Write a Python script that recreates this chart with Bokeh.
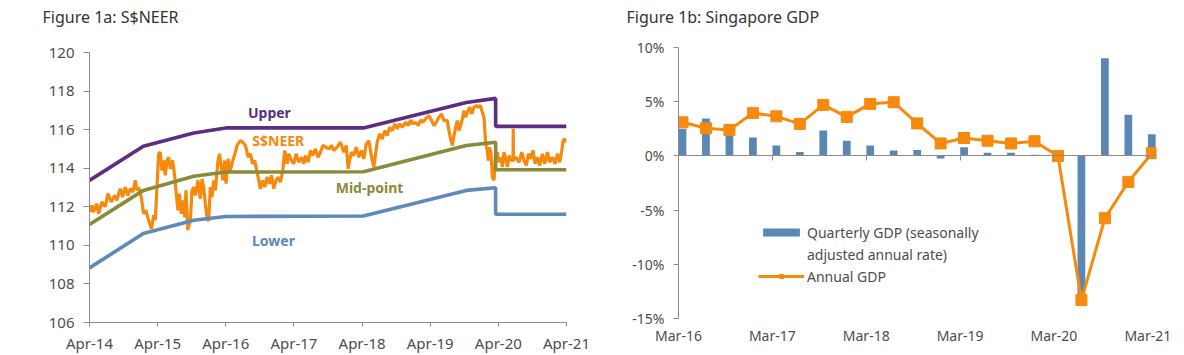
from bokeh.plotting import figure
from bokeh.layouts import row, column
from bokeh.models import (ColumnDataSource, LinearAxis, FixedTicker, Legend, LegendItem,
                          CustomJSTickFormatter, Title)
from bokeh.embed import file_html
from bokeh.resources import INLINE
from bokeh.core.properties import value

FONT = "Noto Sans"
TXT = "#4d4d4d"
AX = "#8c8c8c"
C_UP = "#5c2d83"
C_MID = "#8a8a3b"
C_LOW = "#5d8ab8"
C_OR = "#f7890c"
C_BAR = "#5b87b4"

# ---------------- Figure 1a data ----------------
title1 = "Figure 1a: S$NEER"
year_ticks = [2014.25, 2015.25, 2016.25, 2017.25, 2018.25, 2019.25, 2020.25, 2021.25]
year_labels = ["Apr-14", "Apr-15", "Apr-16", "Apr-17", "Apr-18", "Apr-19", "Apr-20", "Apr-21"]
y1_ticks = [106, 108, 110, 112, 114, 116, 118, 120]

band_t = [2014.25, 2015.04, 2015.78, 2016.25, 2018.27, 2019.78, 2020.21, 2020.21, 2021.25]
upper = [113.37, 115.14, 115.83, 116.09, 116.09, 117.41, 117.62, 116.17, 116.17]
mid = [111.08, 112.85, 113.58, 113.80, 113.82, 115.18, 115.35, 113.92, 113.92]
lower = [108.83, 110.61, 111.30, 111.50, 111.52, 112.85, 112.99, 111.61, 111.61]

neer_t = [2014.260, 2014.285, 2014.309, 2014.358, 2014.383, 2014.432, 2014.481, 2014.520, 2014.569,
          2014.618, 2014.652, 2014.701, 2014.735, 2014.775, 2014.814, 2014.848, 2014.887, 2014.921,
          2014.946, 2014.970, 2015.010, 2015.044, 2015.078, 2015.117, 2015.160, 2015.191, 2015.215,
          2015.240, 2015.264, 2015.289, 2015.313, 2015.338, 2015.362, 2015.387, 2015.411, 2015.436,
          2015.470, 2015.499, 2015.519, 2015.548, 2015.568, 2015.597, 2015.617, 2015.646, 2015.666,
          2015.692, 2015.730, 2015.754, 2015.779, 2015.803, 2015.842, 2015.877, 2015.901, 2015.925,
          2015.950, 2015.974, 2015.999,
          2016.023, 2016.048, 2016.072, 2016.097, 2016.136, 2016.156, 2016.185, 2016.205, 2016.234,
          2016.254, 2016.283, 2016.317, 2016.352, 2016.391, 2016.415, 2016.464, 2016.499, 2016.538,
          2016.577, 2016.611, 2016.645, 2016.675, 2016.709, 2016.734, 2016.758, 2016.792, 2016.822,
          2016.856, 2016.890, 2016.920, 2016.954, 2016.988, 2017.018, 2017.052, 2017.086, 2017.116,
          2017.150, 2017.174, 2017.214, 2017.248, 2017.282, 2017.321, 2017.361, 2017.395, 2017.419,
          2017.458, 2017.493, 2017.527, 2017.566, 2017.605, 2017.640, 2017.674,
          2017.762, 2017.801, 2017.835, 2017.884, 2017.933, 2017.958, 2017.982, 2018.017, 2018.046,
          2018.066, 2018.095, 2018.129, 2018.164, 2018.203, 2018.242, 2018.276, 2018.311, 2018.350,
          2018.389, 2018.423, 2018.448, 2018.472, 2018.506, 2018.546, 2018.585, 2018.619, 2018.653,
          2018.693, 2018.732, 2018.766, 2018.800, 2018.839, 2018.888, 2018.928, 2018.962, 2018.996,
          2019.035, 2019.075, 2019.109, 2019.143, 2019.182, 2019.231, 2019.270, 2019.305, 2019.339,
          2019.378, 2019.417, 2019.452,
          2019.500, 2019.525, 2019.549, 2019.574, 2019.598, 2019.623, 2019.647, 2019.672, 2019.696,
          2019.721, 2019.745, 2019.770, 2019.794, 2019.829, 2019.858, 2019.892, 2019.927, 2019.956,
          2019.985, 2020.015, 2020.039, 2020.064, 2020.088, 2020.103, 2020.123, 2020.142, 2020.162,
          2020.186, 2020.211, 2020.235, 2020.260, 2020.284, 2020.309, 2020.333, 2020.358, 2020.382,
          2020.407, 2020.441, 2020.466, 2020.468, 2020.471, 2020.514, 2020.553, 2020.593, 2020.627,
          2020.661, 2020.691, 2020.725, 2020.759, 2020.789, 2020.823, 2020.857, 2020.896, 2020.931,
          2020.970, 2021.004, 2021.043, 2021.083, 2021.117, 2021.151, 2021.181, 2021.200, 2021.225,
          2021.245]
neer_v = [111.73, 112.07, 111.73, 112.16, 111.64, 112.25, 111.99, 112.68, 112.25,
          112.59, 112.33, 112.94, 112.50, 113.02, 112.59, 112.94, 112.76, 113.37,
          112.85, 113.02, 112.50, 111.64, 111.81, 111.30, 110.85, 111.56, 111.30,
          113.02, 114.75, 114.83, 113.88, 114.40, 113.63, 114.40, 114.57, 113.97,
          114.40, 113.63, 112.85, 111.81, 112.68, 111.64, 112.33, 111.47, 112.85,
          110.80, 111.30, 112.85, 113.02, 112.59, 113.37, 112.42, 113.45, 113.02,
          112.16, 111.47, 111.25,
          113.02, 112.50, 113.37, 112.85, 114.40, 114.75, 114.06, 113.37, 114.40,
          113.20, 114.49, 113.88, 114.40, 114.83, 115.18, 115.43, 115.35, 115.18,
          114.57, 114.75, 114.23, 114.40, 113.80, 113.37, 112.94, 113.37, 113.02,
          113.54, 113.20, 113.63, 112.94, 113.37, 113.54, 113.28, 113.88, 114.92,
          114.23, 114.75, 114.40, 114.23, 114.75, 114.31, 114.57, 114.23, 114.66,
          114.31, 114.92, 114.66, 115.00, 114.57, 114.83, 115.18,
          115.00, 115.18, 114.92, 115.09, 115.35, 115.09, 114.83, 115.18, 113.97,
          114.40, 114.83, 114.66, 115.09, 114.57, 114.92, 114.49, 115.26, 115.43,
          114.57, 114.06, 114.75, 115.35, 115.78, 115.52, 115.95, 115.69, 116.12,
          115.95, 116.30, 116.04, 116.30, 116.12, 116.38, 116.21, 116.50, 116.30,
          116.38, 116.21, 116.50, 116.38, 116.56, 116.73, 116.47, 116.21, 116.38,
          116.64, 116.81, 116.47,
          116.47, 115.95, 115.52, 115.18, 115.69, 116.12, 116.47, 115.95, 116.21,
          116.56, 116.99, 116.64, 116.90, 117.16, 116.81, 117.16, 117.25, 117.16,
          117.25, 116.90, 116.64, 115.26, 114.92, 114.40, 115.09, 114.75, 113.54,
          113.37, 114.75, 114.83, 114.31, 114.57, 114.06, 114.83, 114.49, 114.06,
          114.66, 114.40, 114.40, 116.05, 114.40, 114.57, 114.31, 114.83, 114.40,
          114.14, 114.75, 114.49, 114.92, 114.23, 114.57, 114.14, 114.75, 114.23,
          114.83, 114.31, 114.57, 114.23, 114.75, 114.31, 114.92, 115.43, 115.52,
          115.35]

lab_text = ["Upper", "S$NEER", "Mid-point", "Lower"]
lab_t = [2016.89, 2017.02, 2018.36, 2016.95]
lab_v = [116.91, 115.43, 112.99, 110.23]
lab_col = [C_UP, C_OR, C_MID, C_LOW]

# ---------------- Figure 1b data ----------------
title2 = "Figure 1b: Singapore GDP"
quarters = ["Mar-16", "Jun-16", "Sep-16", "Dec-16", "Mar-17", "Jun-17", "Sep-17", "Dec-17",
            "Mar-18", "Jun-18", "Sep-18", "Dec-18", "Mar-19", "Jun-19", "Sep-19", "Dec-19",
            "Mar-20", "Jun-20", "Sep-20", "Dec-20", "Mar-21"]
qoq_saar = [2.5, 3.45, 2.1, 1.7, 0.95, 0.35, 2.35, 1.4, 0.95, 0.5, 0.55, -0.25, 0.8, 0.3, 0.3, 0.1,
            -0.4, -13.2, 9.0, 3.8, 2.0]
annual_gdp = [3.1, 2.55, 2.4, 3.95, 3.65, 2.95, 4.7, 3.6, 4.8, 4.95, 3.0, 1.15, 1.65, 1.4, 1.15, 1.35,
              0.0, -13.3, -5.75, -2.4, 0.25]
y2_ticks = [-15, -10, -5, 0, 5, 10]
y2_labels = ["-15%", "-10%", "-5%", "0%", "5%", "10%"]
x2_label_every = 4
x2_shift = 0.17
leg_bar_lines = ["Quarterly GDP (seasonally", "adjusted annual rate)"]
leg_line = "Annual GDP"


def set_title(p, text, offset, gap):
    # spacer between frame and title, then the real title (outermost)
    p.add_layout(Title(text=" ", text_font_size="1px", standoff=gap), "above")
    p.title.text = text
    p.title.text_font = FONT
    p.title.text_font_size = "16px"
    p.title.text_font_style = "normal"
    p.title.text_color = "#333333"
    p.title.align = "left"
    p.title.offset = offset
    p.title.standoff = 0


# ================= Figure 1a =================
p1 = figure(width=600, height=355, x_range=(2014.25, 2021.25), y_range=(106, 120),
            output_backend="svg", toolbar_location=None,
            min_border_left=89, min_border_right=34, min_border_top=52, min_border_bottom=32)
p1.outline_line_color = None
p1.xgrid.visible = False
p1.ygrid.visible = False
p1.background_fill_color = "white"
p1.border_fill_color = "white"

p1.line(neer_t, neer_v, line_color=C_OR, line_width=3.2)
p1.line(band_t, upper, line_color=C_UP, line_width=3.6)
p1.line(band_t, mid, line_color=C_MID, line_width=3.6)
p1.line(band_t, lower, line_color=C_LOW, line_width=3.6)

lab_src = ColumnDataSource(dict(x=lab_t, y=lab_v, text=lab_text, color=lab_col))
p1.text(x="x", y="y", text="text", text_color="color", source=lab_src,
        text_font=value(FONT), text_font_size="14px", text_font_style="bold",
        text_align="center", text_baseline="middle")

xa = p1.xaxis[0]
xa.ticker = FixedTicker(ticks=year_ticks)
xa.major_label_overrides = {t: l for t, l in zip(year_ticks, year_labels)}
ya = p1.yaxis[0]
ya.ticker = FixedTicker(ticks=y1_ticks)
for ax in (xa, ya):
    ax.axis_line_color = AX
    ax.major_tick_line_color = AX
    ax.minor_tick_line_color = None
    ax.major_tick_in = 0
    ax.major_label_text_font = FONT
    ax.major_label_text_font_size = "15px"
    ax.major_label_text_color = TXT
xa.major_tick_out = 4
xa.major_label_standoff = 6
ya.major_tick_out = 6
ya.major_label_standoff = 9

set_title(p1, title1, -47, 22)

# ================= Figure 1b =================
xs = list(range(len(quarters)))
p2 = figure(width=584, height=355, x_range=(-x2_shift, len(quarters) - 0.8), y_range=(-15, 10),
            output_backend="svg", toolbar_location=None,
            min_border_left=78, min_border_right=28, min_border_top=47, min_border_bottom=37)
p2.outline_line_color = None
p2.xgrid.visible = False
p2.ygrid.visible = False
p2.background_fill_color = "white"
p2.border_fill_color = "white"

bars = p2.vbar(x=xs, top=qoq_saar, width=0.33, fill_color=C_BAR, line_color=None)
ln = p2.line(xs, annual_gdp, line_color=C_OR, line_width=3)
mk = p2.scatter(xs, annual_gdp, marker="square", size=11, fill_color=C_OR, line_color=C_OR)

tick_pos = [i - x2_shift for i in xs[::x2_label_every]]
tick_lab = quarters[::x2_label_every]

xa0 = p2.xaxis[0]
xa0.fixed_location = 0
xa0.ticker = FixedTicker(ticks=tick_pos)
xa0.formatter = CustomJSTickFormatter(code="return ''")
xa0.axis_line_color = AX
xa0.major_tick_line_color = AX
xa0.minor_tick_line_color = None
xa0.major_tick_in = 0
xa0.major_tick_out = 5
xa0.major_label_standoff = 0
xa0.major_label_text_font_size = "0px"

xb = LinearAxis(ticker=FixedTicker(ticks=tick_pos))
xb.major_label_overrides = {t: l for t, l in zip(tick_pos, tick_lab)}
xb.axis_line_color = None
xb.major_tick_line_color = None
xb.minor_tick_line_color = None
xb.major_tick_out = 0
xb.major_tick_in = 0
xb.major_label_text_font = FONT
xb.major_label_text_font_size = "14px"
xb.major_label_text_color = TXT
xb.major_label_standoff = 7
p2.add_layout(xb, "below")

ya2 = p2.yaxis[0]
ya2.ticker = FixedTicker(ticks=y2_ticks)
ya2.major_label_overrides = {t: l for t, l in zip(y2_ticks, y2_labels)}
ya2.axis_line_color = AX
ya2.major_tick_line_color = AX
ya2.minor_tick_line_color = None
ya2.major_tick_in = 0
ya2.major_tick_out = 5
ya2.major_label_standoff = 9
ya2.major_label_text_font = FONT
ya2.major_label_text_font_size = "14px"
ya2.major_label_text_color = TXT

legend = Legend(items=[
    LegendItem(label=leg_bar_lines[0], renderers=[bars]),
    LegendItem(label=leg_bar_lines[1], renderers=[]),
    LegendItem(label=leg_line, renderers=[ln, mk]),
], location=(80, 32))
legend.background_fill_alpha = 0
legend.border_line_color = None
legend.padding = 0
legend.margin = 0
legend.spacing = 2
legend.glyph_width = 46
legend.glyph_height = 10
legend.label_height = 20
legend.label_standoff = 3
legend.label_text_font = FONT
legend.label_text_font_size = "14px"
legend.label_text_color = TXT
p2.add_layout(legend, "center")

set_title(p2, title2, -52, 17)

layout = row(column(p1), column(p2))
open("out.html", "w").write(file_html(layout, INLINE))
